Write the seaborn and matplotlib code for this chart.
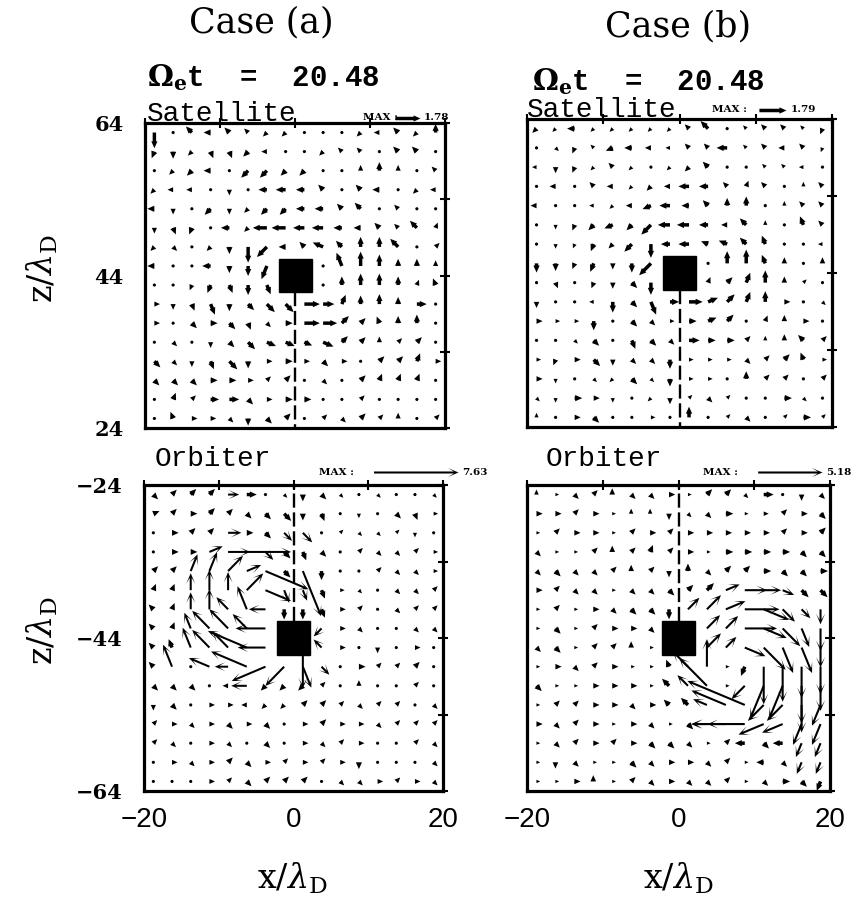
import numpy as np
import matplotlib
matplotlib.use("Agg")
import matplotlib.pyplot as plt
from matplotlib.patches import Rectangle
import seaborn as sns

sns.set_theme(style="white")
plt.rcParams.update({
    "mathtext.fontset": "dejavuserif",
    "text.color": "#000000",
    "axes.labelcolor": "#000000",
    "xtick.color": "#000000",
    "ytick.color": "#000000",
    "axes.edgecolor": "#000000",
})
INK = "#000000"

# ---------------------------------------------------------------- data
case_labels = ["Case (a)", "Case (b)"]
omega_t = [20.48, 20.48]
max_speed = {"sat_a": 1.78, "sat_b": 1.79, "orb_a": 7.63, "orb_b": 5.18}

# grid nodes (units of lambda_D)
x_nodes = [-18.75, -16.25, -13.75, -11.25, -8.75, -6.25, -3.75, -1.25,
           1.25, 3.75, 6.25, 8.75, 11.25, 13.75, 16.25, 18.75]
z_nodes_sat = [62.75, 60.25, 57.75, 55.25, 52.75, 50.25, 47.75, 45.25,
               42.75, 40.25, 37.75, 35.25, 32.75, 30.25, 27.75, 25.25]
z_nodes_orb = [-25.25, -27.75, -30.25, -32.75, -35.25, -37.75, -40.25, -42.75,
               -45.25, -47.75, -50.25, -52.75, -55.25, -57.75, -60.25, -62.75]

x_ticks = [-20, -10, 0, 10, 20]
x_ticklabels = ["\u221220", "", "0", "", "20"]
z_ticks_sat = [24, 34, 44, 54, 64]
z_ticklabels_sat = ["24", "", "44", "", "64"]
z_ticks_orb = [-64, -54, -44, -34, -24]
z_ticklabels_orb = ["\u221264", "", "\u221244", "", "\u221224"]

# body centres (x, z) and half size
body_sat = (0.0, 44.0)
body_orb = (0.0, -44.0)
body_half = 2.2

# velocity vectors: one string per grid row (top row first),
# token = compass direction + magnitude in tenths, "0" = hidden by the body
vel_sat_a = [
    "S11 NE2 NW6 W5 NW5 NW4 SW4 SW4 E2 E2 E2 SW4 W4 NW5 SW4 N6",
    "SSW5 S5 SW4 SSE5 SSE5 SW5 W4 E2 E2 SW4 NW4 NW4 N2 NW5 NW5 W2",
    "W2 SW4 SW5 W5 SW2 SW7 SW7 SW5 SW5 W2 SW2 N4 N6 N4 W2 NW4",
    "SW4 W4 W4 SW2 S4 SW2 W6 W7 W6 NW5 NW2 NW5 W5 W2 SW4 W4",
    "W5 S4 S2 SW6 S4 SW4 SW6 SW6 W6 W6 NW5 NW6 W2 NW4 W2 W2",
    "S4 SSE5 SSW5 W2 W6 SW4 W10 W10 W8 W8 W6 W5 NW5 NW4 NW7 NNE4",
    "SW4 SE4 S2 SW4 S5 S11 SW10 W5 NW5 WNW8 NW6 N7 N7 NW8 N2 NE4",
    "W5 S2 S2 W6 S5 S7 SSW10 0 0 N2 NNW10 N10 N8 N5 N5 N4",
    "S2 S2 SSW4 SSW6 SSE6 S7 SSE7 0 0 N2 N6 N8 N8 N6 NNE4 NNW5",
    "E4 S4 SSE5 SSE8 S5 SE6 SE8 SE8 E11 E8 NNE7 N6 N7 N5 E7 E2",
    "E4 E1 SE5 E5 SE6 SSE5 SE4 E5 E11 E10 NE7 NE5 NNW5 N5 N6 N2",
    "E2 SE4 E2 S4 SE5 SE7 ESE7 ESE7 ESE6 ESE8 NE6 NE5 N4 NE4 NE5 N2",
    "SE6 SE4 S4 SSE6 SE8 S5 E4 E5 E4 SE5 E4 E2 NE5 NE5 NNE6 E4",
    "SE5 SE5 SE5 E5 E5 E4 NE4 NE5 E2 SE4 E2 NE5 NNE5 NNE5 NNE5 N2",
    "E2 NNE5 NE4 E6 E7 SE5 E4 E5 E5 E2 E2 NE4 E2 E2 E2 E2",
    "E2 NNW5 E4 E4 SE4 S5 SE5 NE5 E2 NE4 SE4 NE5 NE4 N4 E2 NE4",
]

vel_sat_b = [
    "SW4 SW3 W5 SW3 SW3 SW3 SW3 SW3 NW4 NW7 W2 NW3 NW4 NW4 NW3 SSW4",
    "S2 SE3 SSW4 NW3 WSW5 W5 W4 W3 NW4 NW4 W7 NW3 NW4 W4 NW4 SSW3",
    "W3 S4 SSW4 SW3 NW4 SW3 W2 SW3 SW4 NW5 W2 NW2 NW3 NW3 W3 W2",
    "W2 W4 W2 NW4 W4 SW3 SW4 W4 W7 W6 NW4 NNE4 NW4 W2 N3 NW4",
    "W4 W2 W2 W3 SW3 W4 WSW6 W7 W5 NW5 N5 N6 N2 N3 NW4 NW4",
    "S2 S3 SSW4 SW5 WSW6 SW5 SW9 W8 W8 W6 W4 NW6 N3 N2 NNW6 NW4",
    "S2 S3 SSW3 SSW5 SW4 SW7 S9 W6 W7 WNW5 WNW6 NW6 NNW6 N2 N2 W3",
    "S6 S5 SSW4 SSW6 S4 S6 SW11 0 0 N2 N8 N9 NNW6 N4 N2 N4",
    "S2 SSE4 S2 SSW4 S4 SE5 S8 0 0 NNE4 NE5 NNE7 N8 N4 NE3 N2",
    "S4 S2 S2 W3 S7 SE5 SSE9 E6 E9 ENE7 NE7 NNE7 N7 E4 E2 SE3",
    "E4 E3 E3 S6 S2 SE5 SE4 E3 E5 ENE6 NE6 NE2 NNE4 N4 E4 E2",
    "E2 E2 SE3 SE5 S2 SSE6 SE5 SE4 E7 E5 E5 NE4 N3 N4 NW5 NE4",
    "E3 SSW4 E4 SE6 S4 SE4 SE4 S6 E3 E3 E3 SE4 NE4 NE5 NNW5 E3",
    "E4 S3 E2 SE3 SW3 SE5 SE3 S5 E3 E3 E2 N5 NE4 NE4 E2 NE4",
    "SE3 S3 E5 E4 S3 E2 SW3 S4 NE3 SE4 NE3 E2 E2 E5 SE3 E2",
    "N3 E2 E4 SE5 E2 E2 E3 E2 N7 E2 NE3 SE4 E2 NE3 E5 NE3",
]

vel_orb_a = [
    "SE6 NE6 NE7 NE7 E10 E9 E3 SE4 S6 SE6 SE4 E3 SE4 E3 E3 SE4",
    "ENE6 NE6 E6 NE7 NE6 SE6 SE7 SE9 S6 SSE7 E3 S4 E3 SE6 SSE6 E4",
    "E3 E6 NE6 NE6 E12 E6 SE7 SE10 SE12 E3 NE4 SE4 SE4 NE4 S4 E3",
    "N3 E6 E6 ENE13 E20 E40 SE10 SE8 SSE8 SE6 E3 NE5 SE5 SE5 NE5 E4",
    "NE6 NE6 NNE16 NNE18 NE19 ENE14 ESE42 SE8 SSE43 S8 E3 E3 NE5 SE5 SE5 E4",
    "NNE6 NNE6 N15 N18 N16 NE21 ESE25 SSE12 SSE10 SSE8 E4 SE4 E3 SE5 SE5 NE5",
    "NW6 NNE6 N15 N18 NW15 NNW22 W15 S9 S9 SSE8 E5 NE5 E3 SE5 NE5 NE5",
    "NW6 NNE6 NNW15 NW22 NW24 NW18 W27 0 0 SW10 E5 SE5 E3 E3 SE5 SE5",
    "NW6 NNW8 NNW19 NW22 NW20 WNW38 W25 0 S36 NW10 E5 E3 S5 E3 E5 E3",
    "NW6 NNW21 E3 WNW20 W12 WNW35 WSW33 SW24 SSE20 SE10 E3 E6 NE5 NE5 NE6 E3",
    "SE6 SE6 SE6 W3 W5 W14 SW6 SW6 SW6 NE5 E3 N5 E3 E3 NE5 E3",
    "S5 SE6 E3 E5 E5 W5 SW5 SW5 NE6 NE6 NE5 SE5 NE5 NE5 E3 SE5",
    "NE5 E5 SE5 E5 SE6 E5 SE6 E3 E5 NE6 E5 E5 SE5 NE5 NE5 NE5",
    "NE5 SE5 E3 E5 SE5 E3 SE6 E3 E5 SE5 NE5 E5 E3 E3 NE5 SE5",
    "E3 E5 SE5 E5 NE6 SE6 E5 NE5 E5 NE5 E5 S6 E3 E3 E3 SE5",
    "E3 E3 E3 E5 NE5 SE6 NE6 NE6 NE6 E3 SE5 SE5 E5 NE5 E5 SE5",
]

vel_orb_b = [
    "N4 E3 SE5 NE5 N5 SE5 SE5 E5 E3 NE6 NE6 SE4 E8 E2 S5 SE5",
    "E5 E5 NE5 E5 E3 N4 N4 S5 SE4 SE5 E6 E3 E4 NE5 E5 SE6",
    "E3 NE5 E5 E5 E3 NE5 E5 NE5 E5 E5 E5 E5 E5 NE5 E5 NE6",
    "SE5 E3 E3 NE5 N5 NE5 NNE6 NE5 E5 E3 E6 E6 E6 E6 SE6 SE6",
    "SE5 SE6 SE5 SE5 NE5 N5 NE5 S5 N6 SE5 NE6 NE6 E6 SE6 SE6 E6",
    "E5 NE5 SE5 SE5 E3 SE5 SE5 SE6 NE6 NE8 ENE12 E18 E14 ESE10 SE8 SE8",
    "E3 NE5 E3 E5 SE5 SE6 SE6 S8 NE13 NE16 ENE17 E28 ESE22 SE14 SE10 S12",
    "E3 SE6 E3 NE5 E5 E5 SE5 0 0 NE15 NE14 E26 ESE20 SE20 SSE16 S18",
    "SE5 SE6 E3 NE5 NE5 N5 E3 0 0 NE16 NE12 ESE18 SE25 SSE22 SSE22 S16",
    "E3 E5 SE5 NE5 E5 E3 E3 NNW6 NW10 N22 E3 SSW8 S30 S28 S25 S22",
    "SE6 E3 E3 E5 E5 E5 E3 NW8 NW12 NW39 E3 SW15 SSW28 SSW28 S30 S20",
    "E3 NE5 NE5 E5 E5 SE5 E5 NW6 NW8 WNW12 WNW30 WNW50 SW18 SW18 S22 SSW18",
    "E5 SE5 NE5 E5 E3 E5 SE5 E3 SE6 W12 W28 W30 WSW22 WSW18 SSW18 SSW18",
    "E3 SE5 NE5 E5 NE5 E5 SE6 SE6 SE5 E3 NE5 W8 SE6 W8 SSW12 SSW12",
    "E3 S5 SE5 E3 E3 SE6 SE5 E5 E5 SE5 NE5 E3 W6 SE5 SSW10 SSW10",
    "E3 E3 E5 N5 E3 NE5 SE5 E5 SE5 SE5 NE5 E3 SE5 E6 SE6 SSW8",
]

COMPASS = {"E": 0.0, "ENE": 22.5, "NE": 45.0, "NNE": 67.5, "N": 90.0,
           "NNW": 112.5, "NW": 135.0, "WNW": 157.5, "W": 180.0,
           "WSW": 202.5, "SW": 225.0, "SSW": 247.5, "S": 270.0,
           "SSE": 292.5, "SE": 315.0, "ESE": 337.5}


def decode(rows):
    u = np.zeros((len(rows), len(x_nodes)))
    v = np.zeros_like(u)
    for i, row in enumerate(rows):
        toks = row.split()
        assert len(toks) == len(x_nodes), (i, row)
        for j, tok in enumerate(toks):
            head = tok.rstrip("0123456789")
            if not head:
                continue
            mag = int(tok[len(head):]) / 10.0
            ang = np.deg2rad(COMPASS[head])
            u[i, j] = mag * np.cos(ang)
            v[i, j] = mag * np.sin(ang)
    return u, v


# ---------------------------------------------------------------- figure
W, H = 868, 909
fig = plt.figure(figsize=(W / 100, H / 100), dpi=100)


def add_px_axes(left, top, right, bottom):
    return fig.add_axes([left / W, 1 - bottom / H, (right - left) / W, (bottom - top) / H])


# short vectors print as heavy dashes, long ones as thin shafts with barbed heads
blob_style = dict(width=0.0115, headwidth=1.8, headlength=2.0, headaxislength=2.0)
long_style = dict(width=0.0068, headwidth=4.4, headlength=5.2, headaxislength=2.3)

panels = [
    dict(rect=(145, 123, 445, 428), vel=vel_sat_a, z=z_nodes_sat, body=body_sat,
         vmax=max_speed["sat_a"], scale=0.534, split=None, key=(0.915, 1.018),
         max_x=0.785, name="Satellite", name_xy=(0.005, 1.006), col=0, top=True),
    dict(rect=(527, 119, 832, 427), vel=vel_sat_b, z=z_nodes_sat, body=body_sat,
         vmax=max_speed["sat_b"], scale=0.504, split=None, key=(0.85, 1.03),
         max_x=0.665, name="Satellite", name_xy=(0.0, 1.006), col=1, top=True),
    dict(rect=(144, 485, 443, 791), vel=vel_orb_a, z=z_nodes_orb, body=body_orb,
         vmax=max_speed["orb_a"], scale=0.675, split=1.0, key=(1.05, 1.042),
         max_x=0.645, name="Orbiter", name_xy=(0.037, 1.062), col=0, top=False),
    dict(rect=(527, 485, 830, 791), vel=vel_orb_b, z=z_nodes_orb, body=body_orb,
         vmax=max_speed["orb_b"], scale=0.61, split=0.9, key=(0.975, 1.042),
         max_x=0.64, name="Orbiter", name_xy=(0.06, 1.062), col=1, top=False),
]

for p in panels:
    ax = add_px_axes(*p["rect"])
    u, v = decode(p["vel"])
    X, Z = np.meshgrid(x_nodes, p["z"])
    common = dict(pivot="tail", angles="xy", scale_units="xy", scale=p["scale"],
                  color=INK, zorder=3)
    if p["split"] is None:
        q = ax.quiver(X, Z, u, v, **common, **blob_style)
    else:
        speed = np.hypot(u, v)
        short = speed < p["split"]
        ax.quiver(X[short], Z[short], u[short], v[short], **common, **blob_style)
        q = ax.quiver(X[~short], Z[~short], u[~short], v[~short], **common, **long_style)

    bx, bz = p["body"]
    ax.add_patch(Rectangle((bx - body_half, bz - body_half), 2 * body_half, 2 * body_half,
                           facecolor=INK, edgecolor=INK, zorder=5))
    if p["top"]:
        ax.plot([bx, bx], [bz - body_half, 24], color=INK, lw=1.7,
                ls=(0, (6, 2.0)), zorder=4)
        ax.set_ylim(24, 64)
        ax.set_yticks(z_ticks_sat)
        ylabels = z_ticklabels_sat
    else:
        ax.plot([bx, bx], [bz + body_half, -24], color=INK, lw=1.7,
                ls=(0, (6, 2.0)), zorder=4)
        ax.set_ylim(-64, -24)
        ax.set_yticks(z_ticks_orb)
        ylabels = z_ticklabels_orb
    ax.set_xlim(-20, 20)
    ax.set_xticks(x_ticks)

    if p["col"] == 0:
        ax.set_yticklabels(ylabels, fontfamily="DejaVu Serif", fontweight="bold",
                           fontsize=15, color=INK)
    else:
        ax.set_yticklabels([])
    if not p["top"]:
        ax.set_xticklabels(x_ticklabels, fontfamily="Liberation Sans", fontsize=20, color=INK)
    else:
        ax.set_xticklabels([])

    ax.tick_params(axis="both", direction="inout", length=7, width=1.5,
                   top=True, right=True, colors=INK)
    ax.tick_params(axis="y", pad=12)
    ax.tick_params(axis="x", pad=8)
    for s in ax.spines.values():
        s.set_linewidth(2.3)
        s.set_color(INK)
    ax.grid(False)

    ax.quiverkey(q, p["key"][0], p["key"][1], p["vmax"], f"{p['vmax']:.2f}",
                 labelpos="E", coordinates="axes", labelsep=0.04, labelcolor=INK,
                 fontproperties=dict(family="DejaVu Serif", weight="bold", size=7.5))
    ax.text(p["max_x"], p["key"][1], "MAX :", transform=ax.transAxes,
            ha="center", va="center", fontsize=7.5, fontweight="bold",
            fontfamily="DejaVu Serif", color=INK)
    ax.text(p["name_xy"][0], p["name_xy"][1], p["name"], transform=ax.transAxes,
            ha="left", va="baseline", fontsize=20, fontfamily="Liberation Mono",
            color=INK)

# column headers
for cx, cy, label in [(261, 22, case_labels[0]), (678, 26, case_labels[1])]:
    fig.text(cx / W, 1 - cy / H, label, ha="center", va="center",
             fontsize=25, fontfamily="DejaVu Serif", color=INK)
for lx, ly, t in [(147, 78, omega_t[0]), (532, 82, omega_t[1])]:
    fig.text(lx / W, 1 - ly / H, r"$\mathbf{\Omega_e}$t  =  " + f"{t:.2f}",
             ha="left", va="center", fontsize=21, fontfamily="Liberation Mono",
             fontweight="bold", color=INK)

# axis titles
for yy in (268, 630):
    fig.text(42 / W, 1 - yy / H, r"z/$\lambda_{\mathrm{D}}$", rotation=90,
             ha="center", va="center", fontsize=24, fontfamily="DejaVu Serif", color=INK)
for xx in (292, 678):
    fig.text(xx / W, 1 - 878 / H, r"x/$\lambda_{\mathrm{D}}$",
             ha="center", va="center", fontsize=24, fontfamily="DejaVu Serif", color=INK)

fig.savefig("out.png", dpi=100)
